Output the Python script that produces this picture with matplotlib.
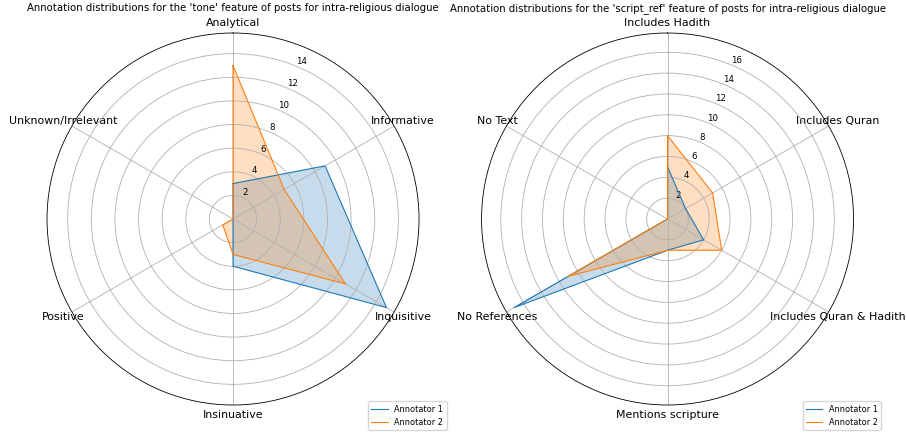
import numpy as np
import matplotlib.pyplot as plt

# donnees 'tone'
tone_cats = ['Analytical', 'Informative', 'Inquisitive', 'Insinuative', 'Positive', 'Unknown/Irrelevant']
tone_a1 = [3, 9, 15, 4, 0, 0]
tone_a2 = [13, 5, 11, 3, 1, 0]

# donnees 'script_ref'
ref_cats = ['Includes Hadith', 'Includes Quran', 'Includes Quran & Hadith', 'Mentions scripture', 'No References', 'No Text']
ref_a1 = [5, 2, 4, 3, 17, 0]
ref_a2 = [8, 5, 6, 3, 11, 0]

annotators = ['Annotator 1', 'Annotator 2']

fig = plt.figure(figsize=(9.06, 4.37), dpi=100)


def radar(ax, cats, a1, a2, feature):
    n = len(cats)
    angles = np.linspace(0, 2 * np.pi, n, endpoint=False).tolist()
    angles += angles[:1]
    ax.set_theta_offset(np.pi / 2)
    ax.set_theta_direction(-1)
    for vals, lab in zip([a1, a2], annotators):
        v = list(vals) + list(vals[:1])
        ax.plot(angles, v, linewidth=0.8, label=lab)
        ax.fill(angles, v, alpha=0.25)
    ax.set_xticks(angles[:-1])
    ax.set_xticklabels(cats, fontsize=7.9)
    ax.tick_params(axis='x', pad=-3)
    ax.tick_params(axis='y', labelsize=6.2)
    ax.grid(True, linewidth=0.6)
    ax.spines['polar'].set_linewidth(0.6)
    ax.set_title("Annotation distributions for the '%s' feature of posts for intra-religious dialogue" % feature,
                 fontsize=7.3, pad=5)
    ax.legend(loc='lower right', bbox_to_anchor=(1.085, -0.078), fontsize=5.9)


ax1 = fig.add_axes([0.0519, 0.0732, 0.4106, 0.8513], polar=True)
radar(ax1, tone_cats, tone_a1, tone_a2, 'tone')

ax2 = fig.add_axes([0.5315, 0.0732, 0.4106, 0.8513], polar=True)
radar(ax2, ref_cats, ref_a1, ref_a2, 'script_ref')

plt.savefig('out.png', dpi=100)
